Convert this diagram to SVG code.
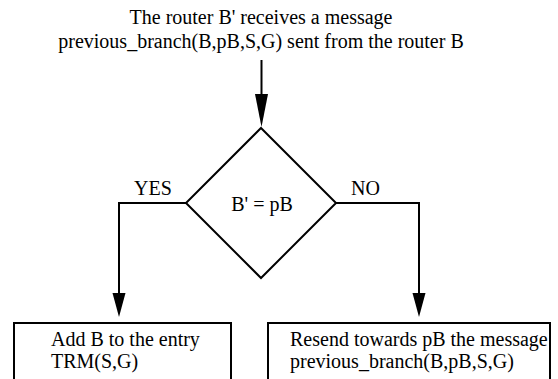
<svg xmlns="http://www.w3.org/2000/svg" width="558" height="379" viewBox="0 0 558 379" font-family="'Liberation Serif', 'Times New Roman', serif">
<style>
text{font-family:'Liberation Serif','Times New Roman',serif;font-size:20px;fill:#000}
.s{fill:none;stroke:#000;stroke-width:2}
.b{fill:#fff;stroke:#000;stroke-width:2}
</style>
<rect width="558" height="379" fill="#fff"/>
<g id="start">
<text x="261" y="24" text-anchor="middle">The router B' receives a message</text>
<text x="261" y="48" text-anchor="middle">previous_branch(B,pB,S,G) sent from the router B</text>
</g>
<g id="connectors">
<line class="s" x1="261.5" y1="60" x2="261.5" y2="118"/>
<path d="M255,94 L268,94 L261.5,127 Z" fill="#000"/>
<polyline class="s" points="186,203 119,203 119,293"/>
<path d="M112.5,293 L125.5,293 L119,317 Z" fill="#000"/>
<polyline class="s" points="336,203 419,203 419,293"/>
<path d="M412.5,293 L425.5,293 L419,317 Z" fill="#000"/>
<text x="134" y="195">YES</text>
<text x="351" y="195">NO</text>
</g>
<g id="decision">
<polygon class="b" points="261,128 336,203 261,278 186,203"/>
<text x="262" y="210.5" text-anchor="middle">B' = pB</text>
</g>
<g id="yes-box">
<rect class="b" x="14" y="323" width="217" height="70"/>
<text x="51" y="345.5">Add B to the entry</text>
<text x="51" y="368">TRM(S,G)</text>
</g>
<g id="no-box">
<rect class="b" x="268" y="323" width="282" height="70"/>
<text x="290" y="345.5">Resend towards pB the message</text>
<text x="290" y="368">previous_branch(B,pB,S,G)</text>
</g>
</svg>
